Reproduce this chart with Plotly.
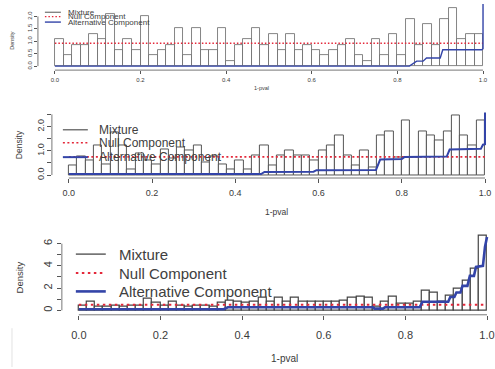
import plotly.graph_objects as go

W, H = 495, 369
FONT = "Liberation Sans, Arial, sans-serif"

# ---------------------------------------------------------------- data
x_ticks = [0.0, 0.2, 0.4, 0.6, 0.8, 1.0]
x_ticktext = ["0.0", "0.2", "0.4", "0.6", "0.8", "1.0"]
bin_width = 0.02
n_bins = 50

# histogram densities of 1-pval, 50 bins of width 0.02
density_1 = [1.08, 0.43, 0.86, 0.86, 1.30, 1.08, 2.10, 0.65, 1.08, 0.65,
             2.00, 0.43, 0.65, 0.86, 1.52, 0.43, 1.52, 0.65, 0.65, 1.52,
             0.22, 0.86, 1.08, 1.52, 0.86, 1.30, 0.65, 1.30, 0.65, 0.86,
             0.65, 0.43, 0.65, 0.86, 1.08, 0.43, 0.22, 1.08, 0.43, 1.30,
             0.43, 1.90, 0.86, 1.68, 0.86, 1.90, 2.33, 1.08, 1.30, 1.30]
density_2 = [0.41, 0.78, 0.62, 1.20, 0.45, 1.75, 1.20, 0.25, 0.90, 0.62,
             0.45, 1.05, 0.70, 1.15, 1.00, 1.20, 0.50, 0.78, 0.45, 0.25,
             0.60, 0.25, 0.80, 1.20, 0.41, 0.80, 1.00, 0.82, 0.82, 0.62,
             1.00, 1.20, 1.62, 0.82, 0.41, 1.00, 0.30, 1.62, 1.80, 0.72,
             2.23, 0.72, 1.80, 1.62, 1.44, 1.80, 2.44, 1.62, 1.20, 2.23]
density_3 = [0.45, 0.80, 0.35, 0.35, 0.45, 0.35, 0.45, 0.45, 1.00, 0.65,
             0.45, 0.80, 0.45, 0.35, 0.45, 0.45, 0.35, 0.70, 0.90, 0.80,
             0.65, 0.80, 1.10, 0.80, 1.10, 0.80, 1.10, 0.80, 0.80, 0.80,
             0.80, 0.80, 0.85, 1.10, 1.20, 1.10, 0.33, 0.80, 1.25, 0.55,
             0.55, 0.80, 1.80, 1.55, 0.80, 1.30, 1.96, 2.70, 3.70, 6.70]

# null component (flat) level
null_1 = 0.92
null_2 = 0.75
null_3 = 0.50

# alternative component curves
alt_1_x = [0.0, 0.828, 0.845, 0.860, 0.868, 0.900, 0.906, 0.997, 1.0, 1.0]
alt_1_y = [0.0, 0.0, 0.20, 0.20, 0.33, 0.33, 0.66, 0.66, 0.70, 2.50]

alt_2_x = [0.0, 0.462, 0.470, 0.588, 0.595, 0.738, 0.748, 0.800, 0.806,
           0.908, 0.915, 0.990, 0.995, 1.0, 1.0]
alt_2_y = [0.04, 0.04, 0.13, 0.14, 0.20, 0.21, 0.64, 0.66, 0.74,
           0.76, 1.05, 1.08, 1.25, 1.27, 2.58]

alt_3_x = [0.0, 0.355, 0.365, 0.720, 0.725, 0.745, 0.750, 0.835, 0.842,
           0.905, 0.910, 0.920, 0.925, 0.935, 0.940, 0.952, 0.958, 0.968,
           0.973, 0.990, 0.995, 1.0]
alt_3_y = [0.10, 0.10, 0.27, 0.27, 0.15, 0.15, 0.27, 0.27, 0.77,
           0.77, 1.20, 1.20, 1.60, 1.60, 2.20, 2.20, 3.10, 3.10,
           3.90, 4.00, 5.70, 6.60]

legend_labels = ["Mixture", "Null Component", "Alternative Component"]

# ---------------------------------------------------------------- styling per panel
C_RED = "#e4283a"
C_BLUE = "#3344a8"
C_AXIS = "#555555"
C_TEXT = "#3a3a3a"

panels = [
    dict(dens=density_1, null=null_1, ax=alt_1_x, ay=alt_1_y,
         # pixel geometry: x0px/x1px where x=0 and x=1 fall, left edge px,
         # y0px where density 0 falls, px per unit, bottom/top px of region
         x0px=55, x1px=484, left=38, y0px=66.5, ppu=25.0, bottom=70.5, top=0,
         yticks=[0, 0.5, 1.0, 1.5, 2.0], yticktext=["0.0", "0.5", "1.0", "1.5", "2.0"],
         tickfont=6, ticklen=2.5, standoff=1, edge="#666666", edge_w=0.8, red_w=1.3,
         red_dash="1.5px,2px", blue_w=1.4,
         ylab=dict(x=12, y=40, size=5.5), xlab=dict(x=262, y=88, size=5.5),
         leg=dict(lx0=45, lx1=61, tx=66, ys=[12.3, 16.7, 22.2], size=8)),
    dict(dens=density_2, null=null_2, ax=alt_2_x, ay=alt_2_y,
         x0px=69, x1px=486, left=52, y0px=176, ppu=24.4, bottom=179, top=98,
         yticks=[0, 0.5, 1.0, 1.5, 2.0, 2.5], yticktext=["0.0", "", "1.0", "", "2.0", ""],
         tickfont=9, ticklen=3.5, standoff=3, edge="#555555", edge_w=1.0, red_w=1.6,
         red_dash="2px,2.5px", blue_w=2.0,
         ylab=dict(x=19, y=145, size=8.5), xlab=dict(x=277, y=213, size=8.5),
         leg=dict(lx0=63, lx1=88, tx=97, ys=[130.5, 143.5, 158], size=12)),
    dict(dens=density_3, null=null_3, ax=alt_3_x, ay=alt_3_y,
         x0px=79, x1px=488, left=62, y0px=312, ppu=11.17, bottom=316.5, top=232,
         yticks=[0, 1, 2, 3, 4, 5, 6], yticktext=["0", "", "2", "", "4", "", "6"],
         tickfont=11, ticklen=4, standoff=6, edge="#444444", edge_w=1.2, red_w=2.0,
         red_dash="2.5px,3.5px", blue_w=2.6,
         ylab=dict(x=20, y=279, size=9.5), xlab=dict(x=285, y=360, size=10),
         leg=dict(lx0=76, lx1=106, tx=117, ys=[255.5, 274.5, 293], size=15)),
]


def px_x(p):
    return p / W


def px_y(p):
    return 1 - p / H


bin_centers = [bin_width * (k + 0.5) for k in range(n_bins)]

fig = go.Figure()
shapes = []
annotations = []
layout_axes = {}

for i, p in enumerate(panels, start=1):
    xs = "" if i == 1 else str(i)
    xname, yname = "x" + xs, "y" + xs
    ppx = p["x1px"] - p["x0px"]
    x_lo = (p["left"] - p["x0px"]) / ppx
    x_hi = (W - p["x0px"]) / ppx
    y_lo = (p["y0px"] - p["bottom"]) / p["ppu"]
    y_hi = (p["y0px"] - p["top"]) / p["ppu"]

    layout_axes["xaxis" + xs] = dict(
        domain=[px_x(p["left"]), 1.0], range=[x_lo, x_hi], anchor=yname,
        tickvals=x_ticks, ticktext=x_ticktext, ticks="outside",
        ticklen=p["ticklen"], tickwidth=0.8, tickcolor=C_AXIS,
        ticklabelstandoff=p["standoff"], ticklabeloverflow="allow",
        tickfont=dict(family=FONT, size=p["tickfont"], color=C_TEXT),
        showgrid=False, zeroline=False, showline=False, fixedrange=True)
    layout_axes["yaxis" + xs] = dict(
        domain=[px_y(p["bottom"]), px_y(p["top"])], range=[y_lo, y_hi], anchor=xname,
        tickvals=p["yticks"], ticktext=p["yticktext"], ticks="outside",
        ticklen=p["ticklen"], tickwidth=0.8, tickcolor=C_AXIS, tickangle=-90,
        ticklabeloverflow="allow",
        tickfont=dict(family=FONT, size=p["tickfont"], color=C_TEXT),
        showgrid=False, zeroline=False, showline=False, fixedrange=True)

    # histogram (mixture)
    fig.add_trace(go.Bar(
        x=bin_centers, y=p["dens"], width=bin_width, xaxis=xname, yaxis=yname,
        marker=dict(color="white", line=dict(color=p["edge"], width=p["edge_w"])),
        hoverinfo="skip"))
    # null component
    fig.add_trace(go.Scatter(
        x=[0.0, 1.0], y=[p["null"], p["null"]], mode="lines", xaxis=xname, yaxis=yname,
        line=dict(color=C_RED, width=p["red_w"], dash=p["red_dash"]), hoverinfo="skip"))
    # alternative component
    fig.add_trace(go.Scatter(
        x=p["ax"], y=p["ay"], mode="lines", xaxis=xname, yaxis=yname,
        line=dict(color=C_BLUE, width=p["blue_w"]), hoverinfo="skip"))

    # axis lines spanning the tick range only
    shapes.append(dict(type="line", xref=xname, yref=yname + " domain",
                       x0=x_ticks[0], x1=x_ticks[-1], y0=0, y1=0,
                       line=dict(color=C_AXIS, width=0.8)))
    shapes.append(dict(type="line", xref=xname + " domain", yref=yname,
                       x0=0, x1=0, y0=p["yticks"][0], y1=p["yticks"][-1],
                       line=dict(color=C_AXIS, width=0.8)))

    # axis titles
    annotations.append(dict(text="Density", xref="paper", yref="paper",
                            x=px_x(p["ylab"]["x"]), y=px_y(p["ylab"]["y"]),
                            xanchor="center", yanchor="middle",
                            textangle=-90, showarrow=False,
                            font=dict(family=FONT, size=p["ylab"]["size"], color=C_TEXT)))
    annotations.append(dict(text="1-pval", xref="paper", yref="paper",
                            x=px_x(p["xlab"]["x"]), y=px_y(p["xlab"]["y"]),
                            xanchor="center", yanchor="middle", showarrow=False,
                            font=dict(family=FONT, size=p["xlab"]["size"], color=C_TEXT)))

    # legend block
    lg = p["leg"]
    styles = [dict(color="#555555", width=p["edge_w"] + 0.2),
              dict(color=C_RED, width=p["red_w"], dash=p["red_dash"]),
              dict(color=C_BLUE, width=p["blue_w"])]
    for lab, yy, st in zip(legend_labels, lg["ys"], styles):
        shapes.append(dict(type="line", xref="paper", yref="paper",
                           x0=px_x(lg["lx0"]), x1=px_x(lg["lx1"]),
                           y0=px_y(yy), y1=px_y(yy), line=st))
        annotations.append(dict(text=lab, xref="paper", yref="paper",
                                x=px_x(lg["tx"]), y=px_y(yy), xanchor="left",
                                yanchor="middle", showarrow=False,
                                font=dict(family=FONT, size=lg["size"], color="#404040")))

# faint frame edge at the lower left
shapes.append(dict(type="line", xref="paper", yref="paper",
                   x0=px_x(12), x1=px_x(12), y0=0, y1=px_y(330),
                   line=dict(color="#e2e2e2", width=1)))

fig.update_layout(
    width=W, height=H, margin=dict(l=0, r=0, t=0, b=0),
    paper_bgcolor="white", plot_bgcolor="white",
    showlegend=False, barmode="overlay", bargap=0,
    shapes=shapes, annotations=annotations, **layout_axes)

fig.write_html("out.html")
